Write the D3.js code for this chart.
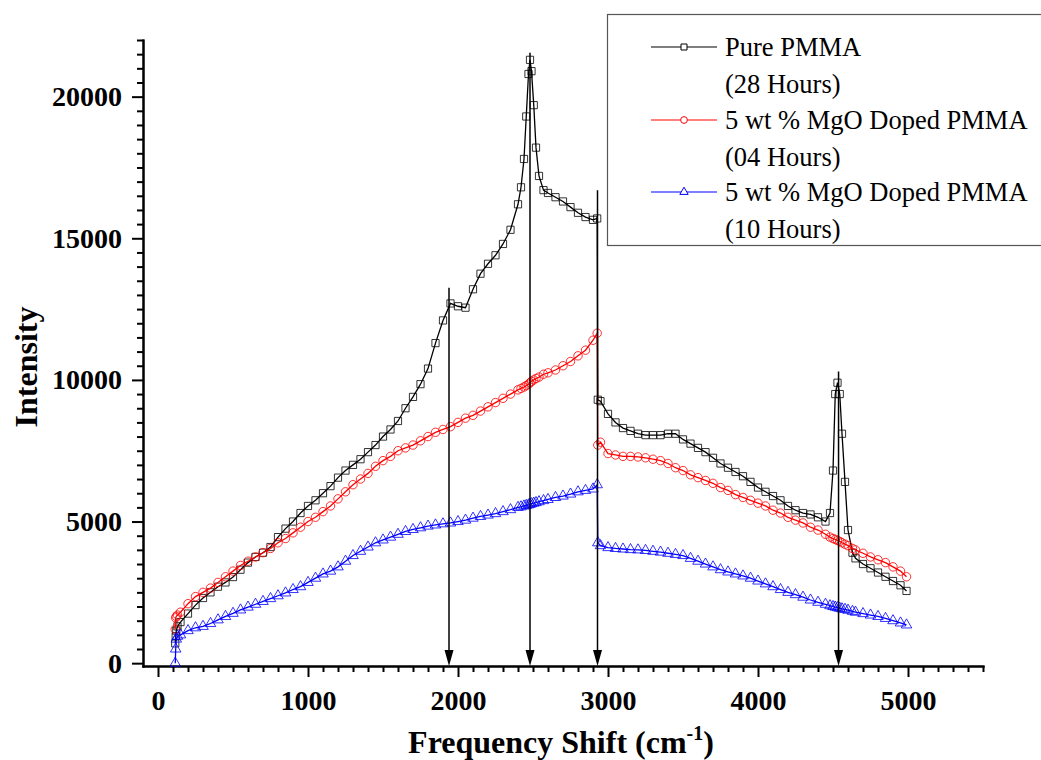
<!DOCTYPE html>
<html>
<head>
<meta charset="utf-8">
<script src="https://cdn.jsdelivr.net/npm/d3@7"></script>
<style>
    body { margin: 0; background: #fff; }
    svg { display: block; }
    .axis path, .axis line { stroke: #000; stroke-width: 2px; }
    .axis text { font-family: "Liberation Serif", "Times New Roman", serif; font-weight: bold; font-size: 28px; fill: #000; }
    .title { font-family: "Liberation Serif", "Times New Roman", serif; font-weight: bold; font-size: 32px; fill: #000; }
    .legend text { font-family: "Liberation Serif", "Times New Roman", serif; font-size: 26.5px; fill: #000; }
</style>
</head>
<body>
<div class="container"></div>
<script>
// wavenumber (cm-1) shared by all three spectra
var shift = [115, 118, 122, 130, 150, 200, 250, 300, 350, 400, 450, 500, 550, 600, 650, 700, 750, 800, 850, 900,
    950, 1000, 1050, 1100, 1150, 1200, 1250, 1300, 1350, 1400, 1450, 1500, 1550, 1600, 1650, 1700, 1750, 1800, 1850, 1900,
    1950, 2000, 2050, 2100, 2150, 2200, 2250, 2300, 2350, 2400, 2420, 2440, 2455, 2470, 2480, 2490, 2505, 2520, 2540, 2570,
    2600, 2650, 2700, 2750, 2800, 2850, 2900, 2928, 2932, 2950, 3000, 3050, 3100, 3150, 3200, 3250, 3300, 3350, 3400, 3450,
    3500, 3550, 3600, 3650, 3700, 3750, 3800, 3850, 3900, 3950, 4000, 4050, 4100, 4150, 4200, 4250, 4300, 4350, 4400, 4450,
    4480, 4500, 4515, 4530, 4545, 4560, 4580, 4600, 4630, 4650, 4700, 4750, 4800, 4850, 4900, 4950, 4990];

var purePmma = [700, 950, 1150, 1300, 1450, 1750, 2050, 2300, 2500, 2700, 2850, 3040, 3300, 3550, 3750, 3900, 4100, 4450, 4750, 5000,
    5300, 5550, 5750, 6000, 6250, 6550, 6800, 7000, 7200, 7450, 7700, 8000, 8250, 8550, 9000, 9400, 9850, 10400, 11300, 12100,
    12700, 12600, 12550, 13200, 13750, 14100, 14400, 14800, 15300, 16200, 16800, 17800, 19300, 20800, 21300, 20900, 19700, 18200, 17200, 16700,
    16600, 16450, 16300, 16100, 15900, 15750, 15650, 15700, 9300, 9250, 8800, 8500, 8300, 8200, 8100, 8050, 8050, 8050, 8100, 8100,
    7900, 7750, 7600, 7450, 7250, 7050, 6900, 6750, 6600, 6400, 6200, 6050, 5900, 5750, 5550, 5400, 5300, 5250, 5150, 5000,
    5300, 6800, 9500, 9900, 9500, 8100, 6400, 4700, 3900, 3700, 3500, 3350, 3200, 3050, 2900, 2750, 2550];

var mgo04h = [1200, 1600, 1650, 1700, 1800, 2100, 2350, 2500, 2650, 2850, 3050, 3250, 3450, 3600, 3750, 3900, 4050, 4250, 4400, 4600,
    4800, 5000, 5150, 5350, 5550, 5800, 6050, 6300, 6500, 6700, 6950, 7150, 7300, 7500, 7600, 7700, 7850, 8000, 8150, 8250,
    8350, 8500, 8650, 8750, 8900, 9050, 9200, 9350, 9500, 9650, 9700, 9750, 9800, 9850, 9900, 9950, 10000, 10050, 10100, 10200,
    10250, 10350, 10500, 10650, 10850, 11050, 11400, 11650, 7700, 7800, 7400, 7350, 7300, 7300, 7280, 7250, 7200, 7150, 7050, 6900,
    6800, 6650, 6550, 6450, 6350, 6200, 6100, 5950, 5850, 5750, 5650, 5550, 5400, 5300, 5150, 5050, 4950, 4800, 4700, 4550,
    4450, 4400, 4370, 4330, 4300, 4250, 4200, 4150, 4050, 4000, 3880, 3750, 3650, 3550, 3400, 3250, 3050];

var mgo10h = [0, 500, 850, 950, 1000, 1150, 1250, 1300, 1400, 1530, 1650, 1760, 1880, 1980, 2080, 2180, 2280, 2380, 2480, 2600,
    2700, 2850, 3000, 3150, 3250, 3400, 3600, 3800, 3950, 4100, 4250, 4350, 4450, 4550, 4650, 4720, 4780, 4840, 4880, 4920,
    4950, 5000, 5050, 5120, 5180, 5230, 5280, 5350, 5420, 5500, 5520, 5550, 5570, 5590, 5610, 5630, 5650, 5670, 5700, 5740,
    5780, 5850, 5900, 5970, 6050, 6100, 6150, 6300, 4250, 4150, 4080, 4050, 4030, 4010, 4000, 3980, 3950, 3920, 3880, 3840,
    3800, 3700, 3600, 3500, 3400, 3300, 3220, 3150, 3080, 3000, 2900, 2800, 2700, 2600, 2500, 2420, 2330, 2230, 2150, 2080,
    2030, 2000, 1980, 1960, 1940, 1920, 1900, 1870, 1830, 1800, 1750, 1700, 1650, 1580, 1500, 1420, 1350];

var seriesNames = ['Pure PMMA', '5 wt % MgO Doped PMMA', '5 wt % MgO Doped PMMA'];
var seriesHours = ['(28 Hours)', '(04 Hours)', '(10 Hours)'];
var xTickValues = [0, 1000, 2000, 3000, 4000, 5000];
var yTickValues = [0, 5000, 10000, 15000, 20000];

// peak markers: position and where the arrow starts
var arrowX = [1940, 2480, 2930, 4537];
var arrowTop = [13250, 21550, 16700, 10300];

const WIDTH = 1041;
const HEIGHT = 760;

var series = [
    { values: purePmma, color: '#000', symbol: d3.symbolSquare, size: 52, legendSize: 36 },
    { values: mgo04h, color: '#ff0000', symbol: d3.symbolCircle, size: 56, legendSize: 36 },
    { values: mgo10h, color: '#0000ff', symbol: d3.symbolTriangle, size: 48, legendSize: 30 }
];

var svg = d3.select('.container').append('svg')
    .attr('width', WIDTH)
    .attr('height', HEIGHT);

var xScale = d3.scaleLinear().domain([-100, 5500]).range([143, 983]);
var yScale = d3.scaleLinear().domain([-100, 22000]).range([666, 40]);

// minor ticks
var xMinor = d3.range(0, 5501, 100).filter(function (v) { return v % 1000 != 0; });
var yMinor = d3.range(500, 22001, 500).filter(function (v) { return v % 5000 != 0; });

svg.append('g').attr('class', 'axis')
    .attr('transform', 'translate(0,666)')
    .call(d3.axisBottom(xScale).tickValues(xMinor).tickSize(6).tickSizeOuter(0).tickFormat(''));
svg.append('g').attr('class', 'axis')
    .attr('transform', 'translate(0,666)')
    .call(d3.axisBottom(xScale).tickValues(xTickValues).tickSize(11).tickSizeOuter(0).tickPadding(13).tickFormat(d3.format('d')));

svg.append('g').attr('class', 'axis')
    .attr('transform', 'translate(143,0)')
    .call(d3.axisLeft(yScale).tickValues(yMinor).tickSize(6).tickSizeOuter(0).tickFormat(''));
svg.append('g').attr('class', 'axis')
    .attr('transform', 'translate(143,0)')
    .call(d3.axisLeft(yScale).tickValues(yTickValues).tickSize(11).tickSizeOuter(0).tickPadding(10).tickFormat(d3.format('d')));

svg.selectAll('.axis path.domain').attr('stroke-linecap', 'square');

// spectra
var line = d3.line()
    .x(function (d, i) { return xScale(shift[i]); })
    .y(function (d) { return yScale(d); });

series.forEach(function (s) {
    var g = svg.append('g');
    g.append('path')
        .attr('d', line(s.values))
        .attr('fill', 'none')
        .attr('stroke', s.color)
        .attr('stroke-width', 1.3);
    g.selectAll('path.mark')
        .data(s.values)
        .enter().append('path')
        .attr('class', 'mark')
        .attr('d', d3.symbol().type(s.symbol).size(s.size))
        .attr('transform', function (d, i) { return 'translate(' + xScale(shift[i]) + ',' + yScale(d) + ')'; })
        .attr('fill', 'none')
        .attr('stroke', s.color)
        .attr('stroke-opacity', 0.8)
        .attr('stroke-width', 1);
});

// arrows down to the axis
var arrows = svg.append('g');
arrowX.forEach(function (x, i) {
    var px = xScale(x);
    arrows.append('line')
        .attr('x1', px).attr('x2', px)
        .attr('y1', yScale(arrowTop[i])).attr('y2', 652)
        .attr('stroke', '#000')
        .attr('stroke-width', 1.5);
    arrows.append('path')
        .attr('d', 'M' + (px - 4.5) + ',650 L' + (px + 4.5) + ',650 L' + px + ',666 Z')
        .attr('fill', '#000');
});

// axis titles
var xt = svg.append('text').attr('class', 'title')
    .attr('x', 561).attr('y', 753)
    .attr('text-anchor', 'middle');
xt.append('tspan').text('Frequency Shift (cm');
xt.append('tspan').attr('dy', -13).attr('font-size', '20px').text('-1');
xt.append('tspan').attr('dy', 13).text(')');

svg.append('text').attr('class', 'title')
    .attr('transform', 'translate(37,367) rotate(-90)')
    .attr('text-anchor', 'middle')
    .text('Intensity');

// legend
var legend = svg.append('g').attr('class', 'legend');
legend.append('rect')
    .attr('x', 607.5).attr('y', 14.5)
    .attr('width', 440).attr('height', 231)
    .attr('fill', '#fff')
    .attr('stroke', '#555')
    .attr('stroke-width', 1.2);

var rowY = [47, 120, 192];
series.forEach(function (s, i) {
    var y = rowY[i];
    legend.append('line')
        .attr('x1', 651).attr('x2', 717)
        .attr('y1', y).attr('y2', y)
        .attr('stroke', s.color)
        .attr('stroke-width', 1.2);
    legend.append('path')
        .attr('d', d3.symbol().type(s.symbol).size(s.legendSize))
        .attr('transform', 'translate(684,' + y + ')')
        .attr('fill', '#fff')
        .attr('stroke', s.color)
        .attr('stroke-width', 1);
    legend.append('text').attr('x', 725).attr('y', y + 9).text(seriesNames[i]);
    legend.append('text').attr('x', 725).attr('y', y + 46).text(seriesHours[i]);
});
</script>
</body>
</html>
